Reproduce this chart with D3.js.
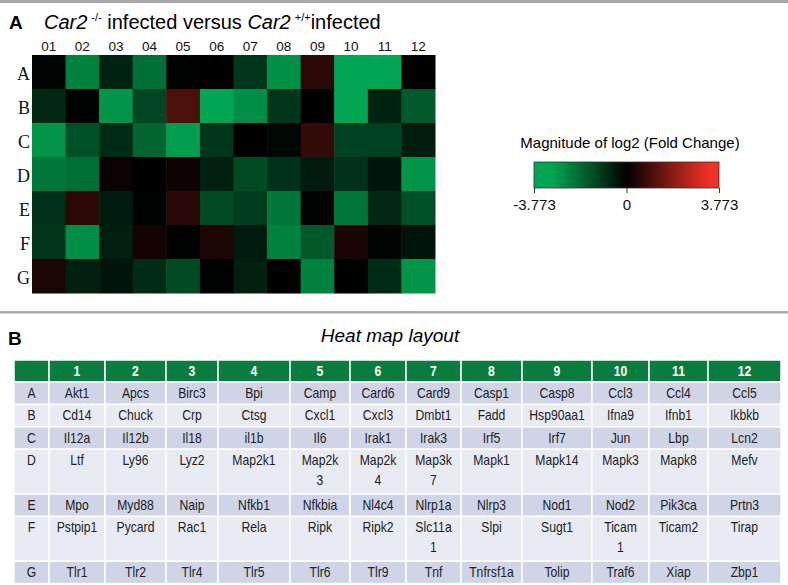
<!DOCTYPE html>
<html>
<head>
<meta charset="utf-8">
<script src="https://cdn.jsdelivr.net/npm/d3@7"></script>
<style>
  html, body { margin: 0; padding: 0; background: #fff; }
  svg { display: block; font-family: "Liberation Sans", Arial, sans-serif; }
</style>
</head>
<body>
<svg id="chart" width="788" height="585"></svg>
<script>
// heat map columns / rows
const colLabels = ['01', '02', '03', '04', '05', '06', '07', '08', '09', '10', '11', '12'];
const rowLabels = ['A', 'B', 'C', 'D', 'E', 'F', 'G'];

// log2 fold change
const rowA = [-0.08, -2.35, -0.64, -2.0, -0.03, 0.02, -1.0, -2.62, 0.6, -3.77, -3.45, 0];
const rowB = [-0.72, -0.02, -2.7, -1.27, 1.05, -3.77, -2.55, -1.0, 0.02, -3.6, -0.64, -1.63];
const rowC = [-2.7, -1.43, -0.8, -1.83, -2.86, -1.0, 0.01, -0.12, 0.7, -1.2, -1.2, -0.52];
const rowD = [-2.15, -2.0, 0.13, 0.02, 0.17, -0.56, -1.35, -0.88, -0.48, -0.88, -0.4, -2.7];
const rowE = [-0.88, 0.6, -0.48, -0.03, 0.52, -1.35, -1.1, -2.15, -0.05, -2.15, -0.72, -1.43];
const rowF = [-0.95, -2.55, -0.56, 0.26, -0.02, 0.39, -0.48, -2.35, -1.6, 0.35, -0.08, -0.36];
const rowG = [0.39, -0.56, -0.36, -0.8, -1.35, -0.04, -0.56, 0, -2.35, 0, -0.8, -2.7];
const heatValues = [rowA, rowB, rowC, rowD, rowE, rowF, rowG];

const legendTicks = [-3.773, 0, 3.773];

// layout table (panel B)
const tableCols = ['1', '2', '3', '4', '5', '6', '7', '8', '9', '10', '11', '12'];
const genesA = ['Akt1', 'Apcs', 'Birc3', 'Bpi', 'Camp', 'Card6', 'Card9', 'Casp1', 'Casp8', 'Ccl3', 'Ccl4', 'Ccl5'];
const genesB = ['Cd14', 'Chuck', 'Crp', 'Ctsg', 'Cxcl1', 'Cxcl3', 'Dmbt1', 'Fadd', 'Hsp90aa1', 'Ifna9', 'Ifnb1', 'Ikbkb'];
const genesC = ['Il12a', 'Il12b', 'Il18', 'il1b', 'Il6', 'Irak1', 'Irak3', 'Irf5', 'Irf7', 'Jun', 'Lbp', 'Lcn2'];
const genesD = ['Ltf', 'Ly96', 'Lyz2', 'Map2k1', 'Map2k3', 'Map2k4', 'Map3k7', 'Mapk1', 'Mapk14', 'Mapk3', 'Mapk8', 'Mefv'];
const genesE = ['Mpo', 'Myd88', 'Naip', 'Nfkb1', 'Nfkbia', 'Nl4c4', 'Nlrp1a', 'Nlrp3', 'Nod1', 'Nod2', 'Pik3ca', 'Prtn3'];
const genesF = ['Pstpip1', 'Pycard', 'Rac1', 'Rela', 'Ripk', 'Ripk2', 'Slc11a1', 'Slpi', 'Sugt1', 'Ticam1', 'Ticam2', 'Tirap'];
const genesG = ['Tlr1', 'Tlr2', 'Tlr4', 'Tlr5', 'Tlr6', 'Tlr9', 'Tnf', 'Tnfrsf1a', 'Tolip', 'Traf6', 'Xiap', 'Zbp1'];
const geneRows = [genesA, genesB, genesC, genesD, genesE, genesF, genesG];
// names that wrap onto a second line in the layout table
const wrapped = new Set(['Map2k3', 'Map2k4', 'Map3k7', 'Slc11a1', 'Ticam1']);

const GREEN = '#00a651';
const RED = '#ee3124';
const NARROW = 0.84; // horizontal squeeze for the narrow table font

const svg = d3.select('#chart');

// grey separators
svg.append('rect').attr('x', 0).attr('y', 0).attr('width', 788).attr('height', 3).attr('fill', '#a9a9a9');
svg.append('rect').attr('x', 0).attr('y', 311).attr('width', 788).attr('height', 2.5).attr('fill', '#a9a9a9');

// ---------- panel A ----------
svg.append('text').attr('x', 9).attr('y', 29)
    .attr('font-size', 19).attr('font-weight', 'bold').text('A');

const title = svg.append('text').attr('x', 44).attr('y', 29).attr('font-size', 20);
title.append('tspan').attr('font-style', 'italic').text('Car2');
title.append('tspan').attr('font-size', 11).attr('dy', -8).attr('dx', 4).text('-/-');
title.append('tspan').attr('dy', 8).text(' infected versus ');
title.append('tspan').attr('font-style', 'italic').text('Car2');
title.append('tspan').attr('font-size', 11).attr('dy', -8).attr('dx', 4).text('+/+');
title.append('tspan').attr('dy', 8).text('infected');

const x = d3.scaleBand().domain(colLabels).range([32, 435]);
const y = d3.scaleBand().domain(rowLabels).range([55, 293]);

const color = d3.scaleLinear()
    .domain([-3.773, -3.0, 0, 3.3, 3.773])
    .range([GREEN, GREEN, '#000000', RED, RED])
    .clamp(true);

const cells = [];
heatValues.forEach((vals, r) => {
    vals.forEach((v, c) => cells.push({ row: rowLabels[r], col: colLabels[c], value: v }));
});

svg.append('g').attr('class', 'cells')
    .selectAll('rect')
    .data(cells)
    .enter()
    .append('rect')
    .attr('x', d => x(d.col))
    .attr('y', d => y(d.row))
    .attr('width', x.bandwidth() + 0.5)
    .attr('height', y.bandwidth() + 0.5)
    .attr('fill', d => color(d.value));

const topAxis = svg.append('g')
    .attr('transform', 'translate(0,55)')
    .call(d3.axisTop(x).tickSize(0).tickPadding(4));
topAxis.select('.domain').remove();
topAxis.selectAll('text')
    .attr('font-size', 13.5)
    .attr('font-family', '"Liberation Sans", Arial, sans-serif')
    .attr('fill', '#111');

const leftAxis = svg.append('g')
    .attr('transform', 'translate(32,0)')
    .call(d3.axisLeft(y).tickSize(0).tickPadding(2));
leftAxis.select('.domain').remove();
leftAxis.selectAll('text')
    .attr('font-size', 18)
    .attr('font-family', '"Liberation Serif", "Times New Roman", serif')
    .attr('dy', '0.42em')
    .attr('fill', '#111');

// legend
const lx = d3.scaleLinear().domain([-3.773, 3.773]).range([534, 719]);
const defs = svg.append('defs');
const grad = defs.append('linearGradient').attr('id', 'lg')
    .attr('x1', '0%').attr('x2', '100%').attr('y1', '0%').attr('y2', '0%');
d3.range(0, 1.0001, 0.05).forEach(t => {
    grad.append('stop')
        .attr('offset', (t * 100) + '%')
        .attr('stop-color', color(lx.invert(534 + t * 185)));
});

svg.append('text').attr('x', 630).attr('y', 148)
    .attr('text-anchor', 'middle').attr('font-size', 15)
    .text('Magnitude of log2 (Fold Change)');

svg.append('rect')
    .attr('x', lx.range()[0]).attr('y', 162)
    .attr('width', lx.range()[1] - lx.range()[0]).attr('height', 26)
    .attr('fill', 'url(#lg)')
    .attr('stroke', '#333').attr('stroke-width', 0.8);

const legAxis = svg.append('g')
    .attr('transform', 'translate(0,188)')
    .call(d3.axisBottom(lx).tickValues(legendTicks).tickFormat(d => d === 0 ? '0' : String(d)).tickSize(5).tickPadding(6));
legAxis.select('.domain').remove();
legAxis.selectAll('line').attr('stroke', '#333');
legAxis.selectAll('text')
    .attr('font-size', 15)
    .attr('font-family', '"Liberation Sans", Arial, sans-serif')
    .attr('fill', '#111');

// ---------- panel B ----------
svg.append('text').attr('x', 8).attr('y', 345)
    .attr('font-size', 19).attr('font-weight', 'bold').text('B');
svg.append('text').attr('x', 390).attr('y', 342)
    .attr('text-anchor', 'middle').attr('font-size', 19).attr('font-style', 'italic')
    .text('Heat map layout');

// column edges of the layout table
const colEdges = [14, 49, 105, 166, 218, 290, 350, 406, 461, 522, 592, 649, 708, 781];
const unit = 22.4;
const rowSpan = geneRows.map(g => g.some(n => wrapped.has(n)) ? 2 : 1);
const tableTop = 360;
const headerH = 22;

const rowTops = [];
let acc = tableTop + headerH;
rowSpan.forEach(s => { rowTops.push(acc); acc += s * unit; });

const tbl = svg.append('g').attr('class', 'tbl');
const mid = i => (colEdges[i] + colEdges[i + 1]) / 2;

// header
const headerCells = [''].concat(tableCols);
tbl.selectAll('.hcell')
    .data(headerCells)
    .enter()
    .append('rect')
    .attr('class', 'hcell')
    .attr('x', (d, i) => colEdges[i])
    .attr('y', tableTop)
    .attr('width', (d, i) => colEdges[i + 1] - colEdges[i])
    .attr('height', headerH)
    .attr('fill', '#0a7d3e')
    .attr('stroke', '#fff').attr('stroke-width', 1.5);

tbl.selectAll('.htext')
    .data(headerCells)
    .enter()
    .append('text')
    .attr('class', 'htext')
    .attr('transform', (d, i) => `translate(${mid(i)},${tableTop + 16}) scale(${NARROW},1)`)
    .attr('text-anchor', 'middle')
    .attr('font-size', 14.5).attr('font-weight', 'bold').attr('fill', '#fff')
    .text(d => d);

// body
geneRows.forEach((genes, r) => {
    const top = rowTops[r];
    const h = rowSpan[r] * unit;
    const fill = r % 2 === 0 ? '#cfd5e7' : '#e8ebf4';
    const items = [rowLabels[r]].concat(genes);

    const g = tbl.append('g');
    g.selectAll('rect')
        .data(items)
        .enter()
        .append('rect')
        .attr('x', (d, i) => colEdges[i])
        .attr('y', top)
        .attr('width', (d, i) => colEdges[i + 1] - colEdges[i])
        .attr('height', h)
        .attr('fill', fill)
        .attr('stroke', '#fff').attr('stroke-width', 1.5);

    const t = g.selectAll('text')
        .data(items)
        .enter()
        .append('text')
        .attr('transform', (d, i) => `translate(${mid(i)},${top + 16}) scale(${NARROW},1)`)
        .attr('text-anchor', 'middle')
        .attr('font-size', 14.5).attr('fill', '#222');

    t.each(function (d) {
        const el = d3.select(this);
        if (wrapped.has(d)) {
            el.append('tspan').attr('x', 0).text(d.slice(0, -1));
            el.append('tspan').attr('x', 0).attr('dy', 20).text(d.slice(-1));
        } else {
            el.text(d);
        }
    });
});
</script>
</body>
</html>
